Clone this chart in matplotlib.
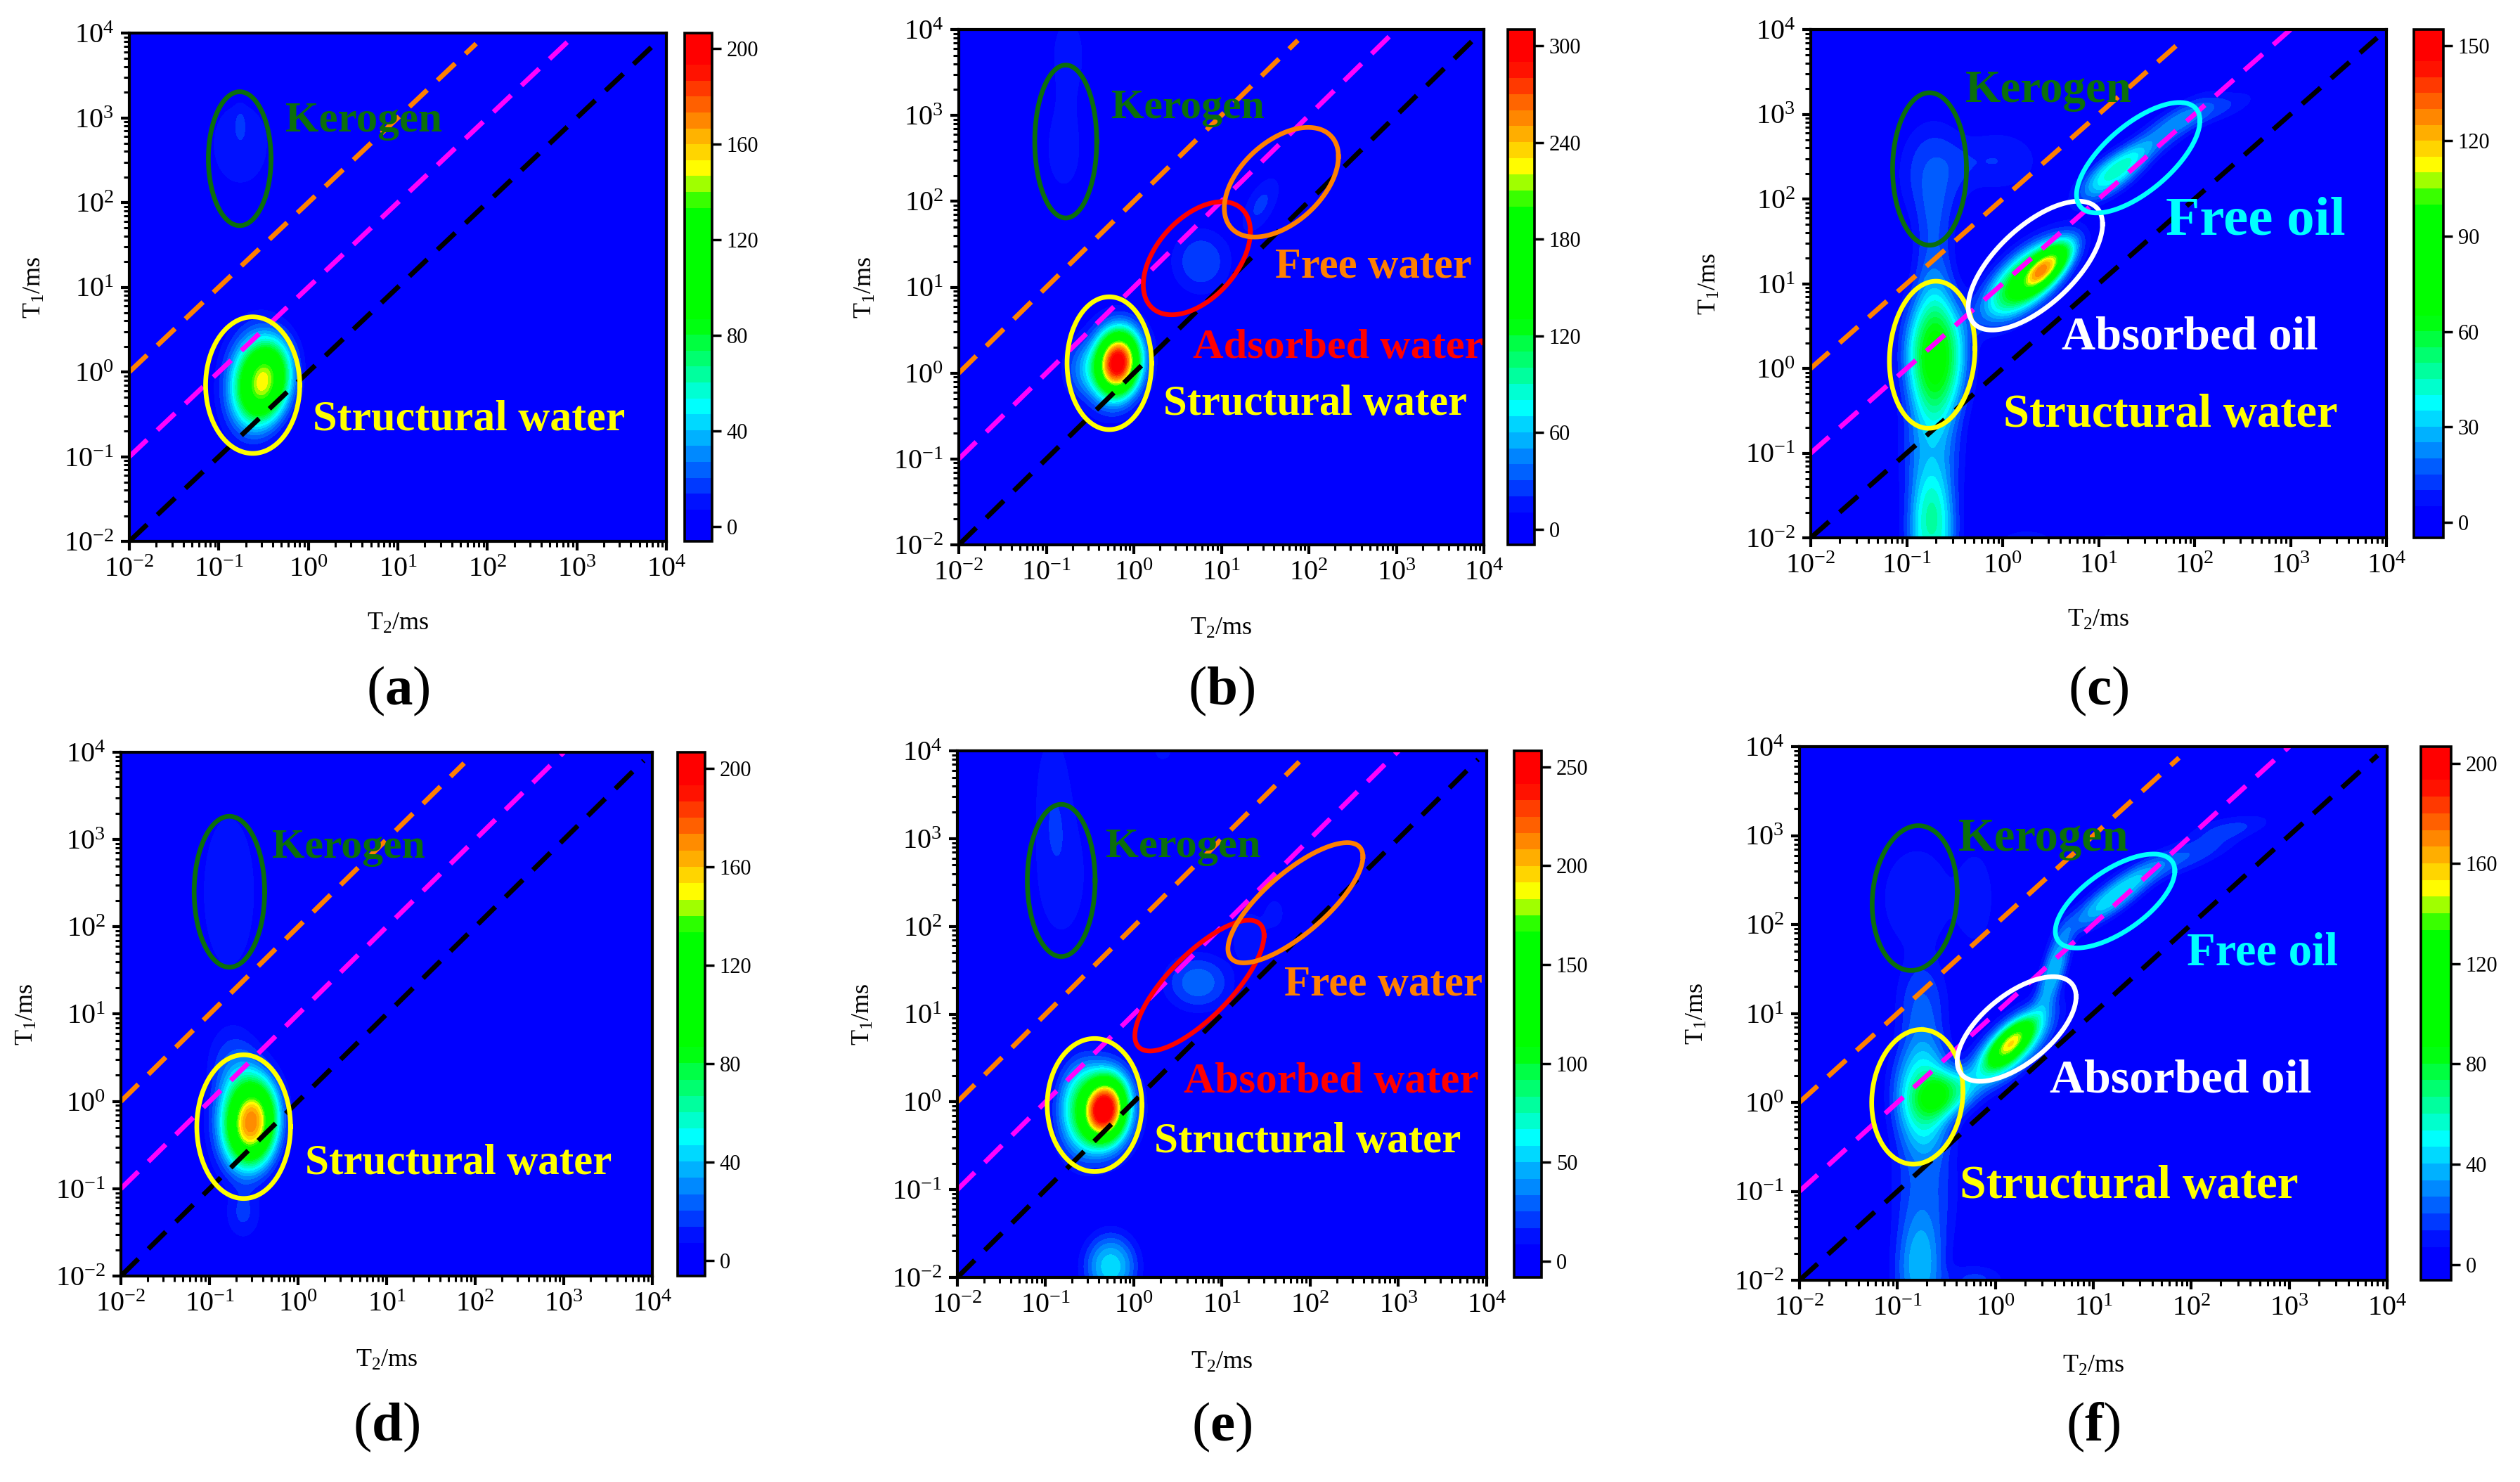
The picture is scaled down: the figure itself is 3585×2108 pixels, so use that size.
import numpy as np
import matplotlib
matplotlib.use('Agg')
import matplotlib.pyplot as plt
from matplotlib.colors import LinearSegmentedColormap
from matplotlib.ticker import LogLocator, NullFormatter

plt.rcParams['font.family'] = ['Liberation Serif', 'DejaVu Serif']
plt.rcParams['mathtext.fontset'] = 'custom'
plt.rcParams['mathtext.rm'] = 'Liberation Serif'
plt.rcParams['mathtext.it'] = 'Liberation Serif:italic'
plt.rcParams['mathtext.bf'] = 'Liberation Serif:bold'

W, H = 3585, 2108

panel_names = ['a', 'b', 'c', 'd', 'e', 'f']
# pixel boxes: left, right, top, bottom
ax_boxes = [(184, 948, 47, 770), (1364, 2111, 42, 775), (2576, 3395, 42, 765),
            (172, 928, 1070, 1815), (1362, 2115, 1068, 1817), (2560, 3396, 1062, 1821)]
cb_boxes = [(974, 1013), (2145, 2183), (3434, 3476),
            (964, 1003), (2154, 2193), (3444, 3487)]
label_y = [983, 983, 983, 2030, 2030, 2030]

cb_min = [-6.3, -9.6, -4.9, -6.2, -8.2, -6.3]
cb_max = [206.5, 310, 155, 206.6, 258, 206.7]
cb_ticks = [[0, 40, 80, 120, 160, 200], [0, 60, 120, 180, 240, 300], [0, 30, 60, 90, 120, 150],
            [0, 40, 80, 120, 160, 200], [0, 50, 100, 150, 200, 250], [0, 40, 80, 120, 160, 200]]

# peaks: log10 T2, log10 T1, height, width in T2, width in T1, tilt
peaks_a = [(-0.47, -0.11, 95, 0.20, 0.32, 0.2), (-0.60, -0.10, 60, 0.23, 0.42, 0.1),
           (-0.76, 2.69, 12.5, 0.26, 0.40, 0), (-0.76, 2.95, 6, 0.04, 0.12, 0)]
peaks_b = [(-0.18, 0.12, 205, 0.16, 0.24, 0.1), (-0.22, 0.10, 100, 0.24, 0.34, 0.1),
           (-0.62, 0.05, 25, 0.14, 0.22, 0),
           (0.77, 1.30, 28, 0.24, 0.27, 0), (1.45, 1.96, 22, 0.16, 0.24, 0.6),
           (-0.80, 2.60, 15, 0.18, 0.42, 0), (-0.75, 3.70, 14, 0.18, 0.45, 0)]
peaks_c = [(0.46, 1.20, 65, 0.18, 0.20, 0.7), (0.25, 1.05, 72, 0.30, 0.32, 0.65),
           (-0.70, 0.15, 70, 0.21, 0.50, 0), (-0.74, -1.95, 42, 0.17, 0.45, 0),
           (-0.74, -1.00, 24, 0.20, 0.50, 0), (-0.72, 1.30, 14, 0.14, 0.50, 0),
           (-0.72, 2.30, 15, 0.24, 0.42, 0), (-0.05, 2.45, 10, 0.30, 0.25, 0),
           (1.15, 2.30, 40, 0.24, 0.22, 0.7), (1.70, 2.80, 20, 0.32, 0.28, 0.85),
           (2.20, 3.05, 11, 0.30, 0.15, 0.7), (0.25, -2.05, 10, 0.20, 0.10, 0),
           (1.15, -2.05, 9, 0.25, 0.07, 0)]
peaks_d = [(-0.50, -0.245, 105, 0.19, 0.32, 0.1), (-0.60, -0.20, 70, 0.23, 0.42, 0),
           (-0.62, -1.30, 14, 0.14, 0.20, 0), (-0.75, 0.50, 12, 0.20, 0.28, 0),
           (-0.78, 2.40, 12.5, 0.25, 0.75, 0)]
peaks_e = [(-0.317, -0.085, 170, 0.16, 0.24, 0.1), (-0.40, -0.08, 90, 0.27, 0.36, 0),
           (-0.62, -0.10, 30, 0.17, 0.38, 0), (-0.262, -1.875, 55, 0.20, 0.25, 0),
           (0.73, 1.36, 30, 0.26, 0.22, 0), (1.30, 1.88, 16, 0.14, 0.22, 0),
           (1.60, 2.15, 11, 0.10, 0.16, 0), (-0.82, 2.59, 13.5, 0.24, 0.60, 0),
           (-0.92, 3.60, 12, 0.16, 0.55, 0), (0.33, 4.00, 15, 0.07, 0.08, 0)]
peaks_f = [(0.16, 0.67, 80, 0.15, 0.17, 0.7), (0.15, 0.62, 75, 0.28, 0.30, 0.7),
           (-0.74, 0.10, 60, 0.20, 0.42, 0), (-0.50, 0.10, 50, 0.20, 0.18, 0.2),
           (1.20, 2.30, 45, 0.30, 0.25, 0.85),
           (0.60, 1.50, 40, 0.12, 0.32, 0.7), (1.90, 2.75, 20, 0.40, 0.20, 0.8),
           (2.40, 3.10, 12, 0.30, 0.10, 0.5), (-0.80, 2.30, 13, 0.28, 0.45, 0),
           (-0.20, 2.30, 12, 0.14, 0.40, 0), (-0.78, -1.95, 32, 0.17, 0.42, 0),
           (-0.72, -1.00, 22, 0.22, 0.60, 0), (-0.75, 1.10, 20, 0.18, 0.35, 0),
           (-0.20, -2.00, 15, 0.20, 0.12, 0), (1.15, -2.05, 9, 0.25, 0.05, 0)]
all_peaks = [peaks_a, peaks_b, peaks_c, peaks_d, peaks_e, peaks_f]

# ellipses: colour, centre x, centre y, half extent x, half extent y, phase (deg) in decades
GREEN = '#0B6E0B'
ORANGE = '#FF8000'
ell_a = [(GREEN, -0.767, 2.517, 0.35, 0.79, 90), ('#FFFF00', -0.622, -0.156, 0.526, 0.806, 90)]
ell_b = [(GREEN, -0.778, 2.696, 0.354, 0.89, 90), ('#FFFF00', -0.28, 0.115, 0.483, 0.773, 90),
         ('#FF0000', 0.72, 1.337, 0.612, 0.658, 62), (ORANGE, 1.686, 2.222, 0.652, 0.638, 62)]
ell_c = [(GREEN, -0.762, 2.354, 0.385, 0.90, 90), ('#FFFF00', -0.734, 0.161, 0.446, 0.868, 85),
         ('#FFFFFF', 0.341, 1.213, 0.70, 0.76, 50), ('#00FFFF', 1.413, 2.487, 0.643, 0.652, 48)]
ell_d = [(GREEN, -0.775, 2.402, 0.398, 0.864, 90), ('#FFFF00', -0.614, -0.289, 0.529, 0.823, 90)]
ell_e = [(GREEN, -0.823, 2.523, 0.384, 0.867, 90), ('#FFFF00', -0.445, -0.036, 0.537, 0.758, 90),
         ('#FF0000', 0.744, 1.325, 0.732, 0.745, 40), (ORANGE, 1.832, 2.269, 0.765, 0.685, 40)]
ell_f = [(GREEN, -0.824, 2.297, 0.434, 0.814, 85), ('#FFFF00', -0.797, 0.062, 0.466, 0.757, 85),
         ('#FFFFFF', 0.217, 0.825, 0.607, 0.588, 52), ('#00FFFF', 1.222, 2.264, 0.61, 0.528, 50)]
all_ell = [ell_a, ell_b, ell_c, ell_d, ell_e, ell_f]

# labels: text, colour, x, y (axes fraction, baseline left), size
txt_a = [('Kerogen', GREEN, 0.29, 0.807, 44), ('Structural water', '#FFFF00', 0.342, 0.218, 44.8)]
txt_b = [('Kerogen', GREEN, 0.291, 0.828, 43), ('Free water', ORANGE, 0.603, 0.518, 43.6),
         ('Adsorbed water', '#FF0000', 0.446, 0.363, 43.4), ('Structural water', '#FFFF00', 0.39, 0.253, 43.6)]
txt_c = [('Kerogen', GREEN, 0.268, 0.857, 46.7), ('Free oil', '#00FFFF', 0.616, 0.597, 57),
         ('Absorbed oil', '#FFFFFF', 0.436, 0.371, 48), ('Structural water', '#FFFF00', 0.335, 0.218, 48)]
txt_d = [('Kerogen', GREEN, 0.284, 0.798, 43), ('Structural water', '#FFFF00', 0.347, 0.195, 44)]
txt_e = [('Kerogen', GREEN, 0.28, 0.799, 43.5), ('Free water', ORANGE, 0.618, 0.535, 44),
         ('Absorbed water', '#FF0000', 0.427, 0.351, 44), ('Structural water', '#FFFF00', 0.372, 0.237, 44)]
txt_f = [('Kerogen', GREEN, 0.27, 0.805, 48), ('Free oil', '#00FFFF', 0.659, 0.591, 48),
         ('Absorbed oil', '#FFFFFF', 0.426, 0.353, 49), ('Structural water', '#FFFF00', 0.273, 0.154, 48.6)]
all_txt = [txt_a, txt_b, txt_c, txt_d, txt_e, txt_f]

# T1 = ratio * T2 guide lines, with the last T2 drawn
line_ratio = [1, 10, 100]
line_end = [8e3, 1e3, 75]
line_color = ['black', '#FF00FF', ORANGE]

band_cmap = LinearSegmentedColormap.from_list('bands', [
    (0.0, '#0000FF'), (0.065, '#0000FF'), (0.265, '#00FFFF'), (0.435, '#00FF00'),
    (0.657, '#00FF00'), (0.735, '#FFFF00'), (0.94, '#FF0000'), (1.0, '#FF0000')])

gx = np.linspace(-2, 4, 400)
gy = np.linspace(-2, 4, 400)
mx, my = np.meshgrid(gx, gy)


def make_field(peaks):
    z = np.zeros_like(mx)
    for cx, cy, amp, sx, sy, rho in peaks:
        u = (mx - cx) / sx
        v = (my - cy) / sy
        r2 = (u * u - 2 * rho * u * v + v * v) / (2 * (1 - rho * rho))
        # flat tops and steep edges, as the maps have
        z += amp * np.exp(-r2 ** 1.2)
    return z


def box(l, r, t, b):
    return [l / W, 1 - b / H, (r - l) / W, (b - t) / H]


fig = plt.figure(figsize=(W / 100, H / 100), dpi=100)

for i in range(6):
    l, r, t, b = ax_boxes[i]
    ax = fig.add_axes(box(l, r, t, b))
    levels = np.linspace(cb_min[i], cb_max[i], 33)
    z = np.clip(make_field(all_peaks[i]), cb_min[i], cb_max[i] - 0.01)
    cs = ax.contourf(10 ** mx, 10 ** my, z, levels=levels, cmap=band_cmap,
                     vmin=cb_min[i], vmax=cb_max[i], antialiased=False)
    ax.set_xscale('log')
    ax.set_yscale('log')
    ax.set_xlim(1e-2, 1e4)
    ax.set_ylim(1e-2, 1e4)

    for ratio, end, col in zip(line_ratio, line_end, line_color):
        xs = np.array([1e-2, end])
        ax.plot(xs, xs * ratio, color=col, lw=5, linestyle=(0, (5, 2.9)), dash_capstyle='butt')

    t_par = np.linspace(0, 2 * np.pi, 300)
    for col, cx, cy, ex, ey, phase in all_ell[i]:
        ax.plot(10 ** (cx + ex * np.cos(t_par)), 10 ** (cy + ey * np.cos(t_par - np.radians(phase))),
                color=col, lw=4.8)

    for s, col, fx, fy, size in all_txt[i]:
        ax.text(fx, fy, s, color=col, fontsize=size, fontweight='bold',
                transform=ax.transAxes, ha='left', va='baseline')

    for side in ax.spines.values():
        side.set_linewidth(3)
    for axis in (ax.xaxis, ax.yaxis):
        axis.set_major_locator(LogLocator(base=10, numticks=10))
        axis.set_minor_locator(LogLocator(base=10, subs=np.arange(2, 10), numticks=12))
        axis.set_minor_formatter(NullFormatter())
    ax.tick_params(which='major', direction='out', length=9, width=3, labelsize=29, pad=7)
    ax.tick_params(which='minor', direction='out', length=5.5, width=2.2)
    ax.set_xlabel(r'T$_2$/ms', fontsize=26)
    ax.set_ylabel(r'T$_1$/ms', fontsize=26)
    ax.xaxis.set_label_coords(0.5, -0.14)
    ax.yaxis.set_label_coords(-0.155, 0.5)

    cax = fig.add_axes(box(cb_boxes[i][0], cb_boxes[i][1], t, b))
    cbar = fig.colorbar(cs, cax=cax)
    cbar.set_ticks(cb_ticks[i])
    cbar.minorticks_off()
    cbar.ax.tick_params(direction='out', length=9, width=2.5, labelsize=22, pad=6)
    cbar.outline.set_linewidth(2.6)

    fig.text((l + r) / 2 / W, 1 - label_y[i] / H, '($\\mathbf{%s}$)' % panel_names[i],
             fontsize=57, ha='center', va='center')

fig.savefig('out.png', dpi=100)
